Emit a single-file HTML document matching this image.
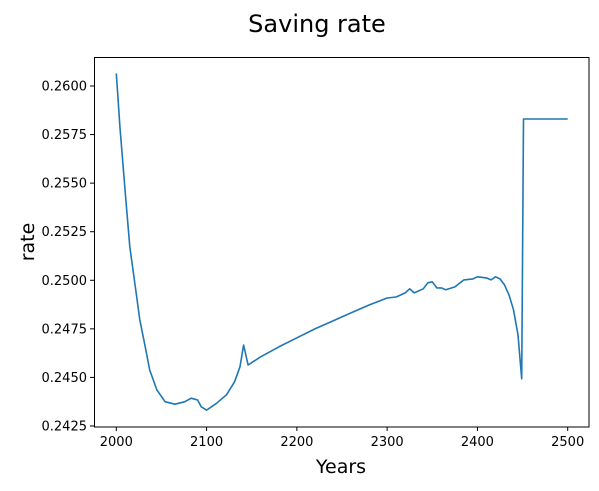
<!DOCTYPE html>
<html><head><meta charset="utf-8"><style>
body{margin:0;background:#fff}
svg text{font-family:"DejaVu Sans","Liberation Sans",sans-serif;fill:#000}
</style></head><body>
<svg id="chart" width="599" height="486" viewBox="0 0 599 486" xmlns="http://www.w3.org/2000/svg">
<text x="317" y="32" font-size="24" text-anchor="middle">Saving rate</text>
<text x="341" y="473" font-size="19" text-anchor="middle">Years</text>
<text transform="translate(34,242) rotate(-90)" font-size="19" text-anchor="middle">rate</text>
<g id="ticks"></g>
<path id="line" fill="none" stroke="#1f77b4" stroke-width="1.6" stroke-linejoin="round"/>
<rect x="94.5" y="57.5" width="494.5" height="369.5" fill="none" stroke="#000" stroke-width="1"/>
</svg>
<script>
const years=[2000,2002,2004,2007,2010,2015,2021,2026,2032,2037,2045,2054,2065,2076,2083,2090,2094,2100,2111,2122,2131,2137,2141,2146,2160,2180,2200,2220,2240,2260,2280,2300,2310,2320,2325,2330,2340,2345,2350,2355,2360,2365,2375,2385,2395,2400,2410,2415,2420,2425,2430,2435,2440,2445,2449,2451,2500];
const rates=[0.26065,0.2593,0.25791,0.2562,0.25448,0.25173,0.24967,0.24796,0.24658,0.24538,0.24435,0.24375,0.24362,0.24375,0.24393,0.24384,0.24349,0.24332,0.24367,0.2441,0.24478,0.24555,0.24667,0.24564,0.24606,0.24657,0.24704,0.2475,0.24791,0.24832,0.24873,0.24909,0.24914,0.24935,0.24956,0.24935,0.24956,0.24987,0.24992,0.24961,0.24961,0.24951,0.24966,0.25002,0.25007,0.25018,0.25012,0.25002,0.25018,0.25007,0.24976,0.24925,0.24848,0.24719,0.24493,0.2583,0.2583];
const xTicks=[2000,2100,2200,2300,2400,2500];
const yTicks=[0.2425,0.2450,0.2475,0.2500,0.2525,0.2550,0.2575,0.2600];
const xs=v=>116.3+(v-2000)*0.9028;
const ys=v=>86-(v-0.26)/0.0025*48.57;
const NS="http://www.w3.org/2000/svg";
const g=document.getElementById('ticks');
function mk(t,a){const e=document.createElementNS(NS,t);for(const k in a)e.setAttribute(k,a[k]);g.appendChild(e);return e;}
xTicks.forEach(v=>{
const l=mk('line',{x1:xs(v),x2:xs(v),y1:427,y2:431,stroke:'#000'});


const t=mk('text',{x:xs(v),y:446,'font-size':13,'text-anchor':'middle'});t.textContent=v;


});
yTicks.forEach(v=>{
const l=mk('line',{x1:90,x2:94.5,y1:ys(v),y2:ys(v),stroke:'#000'});


const t=mk('text',{x:87,y:ys(v)+4.5,'font-size':13,'text-anchor':'end'});t.textContent=v.toFixed(4);


});
document.getElementById('line').setAttribute('d',years.map((y,i)=>(i?'L':'M')+xs(y).toFixed(1)+','+ys(rates[i]).toFixed(1)).join(''));
</script>
</body></html>
